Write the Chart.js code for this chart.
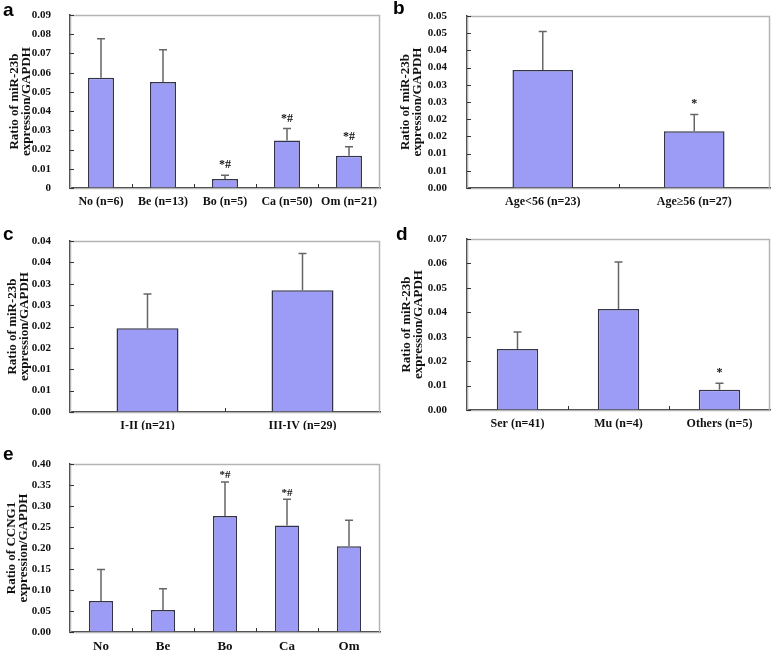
<!DOCTYPE html>
<html>
<head>
<meta charset="utf-8">
<script src="https://cdn.jsdelivr.net/npm/chart.js@4"></script>
<style>
    body { margin: 0; background: #fff; }
    #wrap { position: relative; width: 778px; height: 654px; overflow: hidden; }
    .panel { position: absolute; }
    .letter { position: absolute; font: bold 19px "Liberation Sans", Arial, sans-serif; color: #000; line-height: 1; }
</style>
</head>
<body>
<div id="wrap">
    <div class="panel" style="left:0;top:0;width:390px;height:215px"><canvas id="chartA"></canvas></div>
    <div class="panel" style="left:390px;top:0;width:388px;height:215px"><canvas id="chartB"></canvas></div>
    <div class="panel" style="left:0;top:215px;width:390px;height:215px"><canvas id="chartC"></canvas></div>
    <div class="panel" style="left:390px;top:215px;width:388px;height:215px"><canvas id="chartD"></canvas></div>
    <div class="panel" style="left:0;top:430px;width:390px;height:224px"><canvas id="chartE"></canvas></div>
    <div class="letter" style="left:3px;top:0px">a</div>
    <div class="letter" style="left:393px;top:-2px">b</div>
    <div class="letter" style="left:3px;top:224px">c</div>
    <div class="letter" style="left:396px;top:224px">d</div>
    <div class="letter" style="left:3px;top:444px">e</div>
</div>
<script>
/* ======================================================
   DATA
====================================================== */

// panel a - miR-23b by tissue type
const labelsA = ['No (n=6)', 'Be (n=13)', 'Bo (n=5)', 'Ca (n=50)', 'Om (n=21)'];
const valuesA = [0.0573, 0.0552, 0.0047, 0.0247, 0.0168];
const errorsA = [0.0203, 0.0167, 0.0019, 0.0062, 0.0047];
const marksA = ['', '', '*#', '*#', '*#'];
const ticksA = ['0', '0.01', '0.02', '0.03', '0.04', '0.05', '0.06', '0.07', '0.08', '0.09'];

// panel b - age
const labelsB = ['Age<56 (n=23)', 'Age≥56 (n=27)'];
const valuesB = [0.0343, 0.0165];
const errorsB = [0.0112, 0.0049];
const marksB = ['', '*'];
const ticksB = ['0.00', '0.01', '0.01', '0.02', '0.02', '0.03', '0.03', '0.04', '0.04', '0.05', '0.05'];

// panel c - stage
const labelsC = ['I-II (n=21)', 'III-IV (n=29)'];
const valuesC = [0.0196, 0.0285];
const errorsC = [0.0080, 0.0086];
const marksC = ['', ''];
const ticksC = ['0.00', '0.01', '0.01', '0.02', '0.02', '0.03', '0.03', '0.04', '0.04'];

// panel d - histology
const labelsD = ['Ser (n=41)', 'Mu (n=4)', 'Others (n=5)'];
const valuesD = [0.0250, 0.0413, 0.0083];
const errorsD = [0.0069, 0.0193, 0.0026];
const marksD = ['', '', '*'];
const ticksD = ['0.00', '0.01', '0.02', '0.03', '0.04', '0.05', '0.06', '0.07'];

// panel e - CCNG1 by tissue type
const labelsE = ['No', 'Be', 'Bo', 'Ca', 'Om'];
const valuesE = [0.0737, 0.0523, 0.2764, 0.2535, 0.2044];
const errorsE = [0.0753, 0.0507, 0.0806, 0.0625, 0.0616];
const marksE = ['', '', '*#', '*#', ''];
const ticksE = ['0.00', '0.05', '0.10', '0.15', '0.20', '0.25', '0.30', '0.35', '0.40'];

const TITLE_MIR = ['Ratio of miR-23b', 'expression/GAPDH'];
const TITLE_CCNG = ['Ratio of CCNG1', 'expression/GAPDH'];

/* ======================================================
   PLUGINS
====================================================== */

const SERIF = '"Liberation Serif", "Times New Roman", serif';

// light frame round the plot area, drawn before the axes
const framePlugin = {
    id: 'frame',
    beforeDatasetsDraw(chart) {
        const { ctx, chartArea: a } = chart;
        ctx.save();
        ctx.strokeStyle = '#b4b4b4';
        ctx.lineWidth = 1.5;
        ctx.strokeRect(a.left + 0.5, a.top + 0.5, a.right - a.left - 1, a.bottom - a.top);
        ctx.restore();
    }
};

// upper error bars, significance marks and small inward ticks
const errorBarPlugin = {
    id: 'errorBars',
    afterDatasetsDraw(chart, args, opts) {
        const { ctx, chartArea: a } = chart;
        const yScale = chart.scales.y;
        const xScale = chart.scales.x;
        const meta = chart.getDatasetMeta(0);
        const values = chart.data.datasets[0].data;

        ctx.save();
        ctx.strokeStyle = '#666';
        ctx.lineWidth = 1.5;
        meta.data.forEach((bar, i) => {
            const top = yScale.getPixelForValue(values[i] + opts.errors[i]);
            ctx.beginPath();
            ctx.moveTo(bar.x, bar.y);
            ctx.lineTo(bar.x, top);
            ctx.moveTo(bar.x - 4, top);
            ctx.lineTo(bar.x + 4, top);
            ctx.stroke();

            if (opts.marks[i]) {
                ctx.fillStyle = '#111';
                ctx.font = 'bold ' + (opts.markSize || 12) + 'px ' + SERIF;
                ctx.textAlign = 'center';
                ctx.textBaseline = 'bottom';
                ctx.fillText(opts.marks[i], bar.x, top - (opts.markGap || 4));
            }
        });

        // inward tick marks
        ctx.strokeStyle = '#333';
        ctx.lineWidth = 1;
        yScale.ticks.forEach((t, i) => {
            const y = Math.round(yScale.getPixelForTick(i)) + 0.5;
            ctx.beginPath();
            ctx.moveTo(a.left, y);
            ctx.lineTo(a.left + 4, y);
            ctx.stroke();
        });
        for (let i = 0; i < values.length - 1; i++) {
            const x = Math.round((xScale.getPixelForValue(i) + xScale.getPixelForValue(i + 1)) / 2) + 0.5;
            ctx.beginPath();
            ctx.moveTo(x, a.bottom);
            ctx.lineTo(x, a.bottom - 4);
            ctx.stroke();
        }
        ctx.restore();
    }
};

/* ======================================================
   CHART BUILDER
====================================================== */

function makePanel(canvasId, p) {
    const ctx = document.getElementById(canvasId).getContext('2d');
    return new Chart(ctx, {
        type: 'bar',
        data: {
            labels: p.labels,
            datasets: [{
                data: p.values,
                backgroundColor: '#9c9cf6',
                borderColor: '#34344a',
                borderWidth: 1.5,
                borderSkipped: 'bottom',
                barPercentage: p.barPct,
                categoryPercentage: 1
            }]
        },
        options: {
            responsive: true,
            maintainAspectRatio: false,
            animation: false,
            layout: { padding: { left: 0, right: p.padRight, top: p.padTop, bottom: 0 } },
            plugins: {
                legend: { display: false },
                tooltip: { enabled: false },
                errorBars: { errors: p.errors, marks: p.marks, markSize: p.markSize, markGap: p.markGap }
            },
            scales: {
                x: {
                    grid: { display: false, drawTicks: false },
                    border: { color: '#333', width: 1.5 },
                    ticks: {
                        color: '#111',
                        padding: 7,
                        maxRotation: 0,
                        autoSkip: false,
                        font: { family: SERIF, weight: 'bold', size: p.xFont || 12 }
                    },
                    afterFit: (axis) => { axis.height = p.xHeight; }
                },
                y: {
                    min: 0,
                    max: p.max,
                    // invisible tick marks hold the label gap, so ticks.padding stays small
                    grid: {
                        display: true,
                        drawOnChartArea: false,
                        drawTicks: true,
                        tickLength: p.tickGap,
                        tickColor: 'rgba(0,0,0,0)'
                    },
                    border: { color: '#333', width: 1.5 },
                    ticks: {
                        stepSize: p.step,
                        color: '#111',
                        padding: 3,
                        font: { family: SERIF, weight: 'bold', size: 11 },
                        callback: (v, i) => p.ticks[i]
                    },
                    title: {
                        display: true,
                        text: p.title,
                        color: '#111',
                        padding: { top: p.titlePad, bottom: 0 },
                        font: { family: SERIF, weight: 'bold', size: 13, lineHeight: 0.95 }
                    },
                    afterFit: (axis) => { axis.width = p.yWidth; }
                }
            }
        },
        plugins: [framePlugin, errorBarPlugin]
    });
}

makePanel('chartA', {
    labels: labelsA, values: valuesA, errors: errorsA, marks: marksA, ticks: ticksA,
    max: 0.09, step: 0.01, barPct: 0.42, title: TITLE_MIR,
    yWidth: 70, xHeight: 27, padTop: 15, padRight: 10, tickGap: 16, titlePad: 8
});

makePanel('chartB', {
    labels: labelsB, values: valuesB, errors: errorsB, marks: marksB, ticks: ticksB,
    max: 0.05, step: 0.005, barPct: 0.40, title: TITLE_MIR,
    yWidth: 77, xHeight: 27, padTop: 16, padRight: 8, tickGap: 17, titlePad: 9
});

makePanel('chartC', {
    labels: labelsC, values: valuesC, errors: errorsC, marks: marksC, ticks: ticksC,
    max: 0.04, step: 0.005, barPct: 0.40, title: TITLE_MIR,
    yWidth: 70, xHeight: 18, padTop: 26, padRight: 10, tickGap: 16, titlePad: 6
});

makePanel('chartD', {
    labels: labelsD, values: valuesD, errors: errorsD, marks: marksD, ticks: ticksD,
    max: 0.07, step: 0.01, barPct: 0.41, title: TITLE_MIR,
    yWidth: 77, xHeight: 20, padTop: 24, padRight: 8, tickGap: 17, titlePad: 10
});

makePanel('chartE', {
    labels: labelsE, values: valuesE, errors: errorsE, marks: marksE, ticks: ticksE,
    max: 0.40, step: 0.05, barPct: 0.39, title: TITLE_CCNG, xFont: 13,
    markSize: 11, markGap: 1,
    yWidth: 70, xHeight: 22, padTop: 34, padRight: 10, tickGap: 16, titlePad: 5
});
</script>
</body>
</html>
